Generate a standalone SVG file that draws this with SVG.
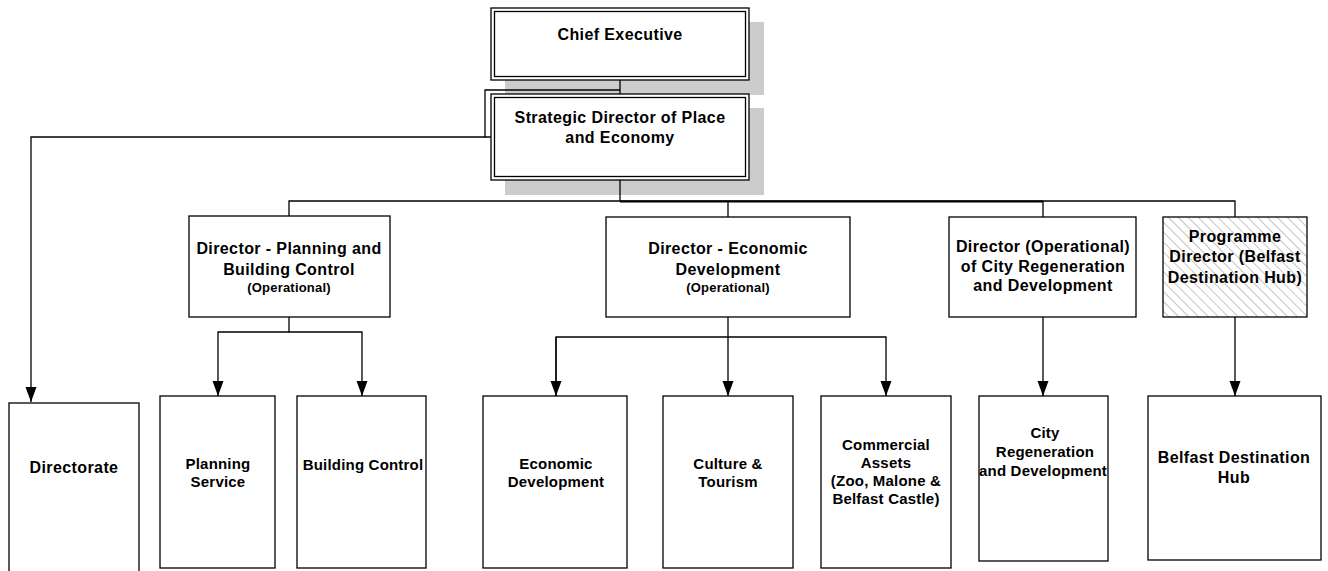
<svg xmlns="http://www.w3.org/2000/svg" width="1328" height="571" viewBox="0 0 1328 571">
<style>
.box{fill:#fff;stroke:#000;stroke-width:1.3}
.shadow{fill:#cccccc}
.t{font-family:"Liberation Sans",Arial,sans-serif;font-weight:bold;font-size:16px;letter-spacing:0.4px;fill:#000;text-anchor:middle}
.s{font-size:15px;letter-spacing:0.2px}
.op{font-size:13px;letter-spacing:0.2px}
.ln{fill:none;stroke:#000;stroke-width:1.3}
</style>
<defs>
<pattern id="hatch" width="7" height="7" patternUnits="userSpaceOnUse" patternTransform="rotate(-45)">
<rect width="7" height="7" fill="#fff"/>
<line x1="0" y1="0" x2="0" y2="7" stroke="#c4c4c4" stroke-width="2"/>
</pattern>
<marker id="ah" markerUnits="userSpaceOnUse" markerWidth="12" markerHeight="16" viewBox="0 0 12 16" refX="6" refY="15" orient="0">
<path d="M0.5,0 L11.5,0 L6,15 Z" fill="#000"/>
</marker>
</defs>

<g id="shadows">
<rect class="shadow" x="505" y="22" width="259" height="73"/>
<rect class="shadow" x="505" y="108" width="259" height="87"/>
</g>

<g id="connectors">
<path class="ln" d="M620,80 V94"/>
<path class="ln" d="M620,90 H485 V137 H491"/>
<path class="ln" d="M485,137 H31 V402" marker-end="url(#ah)"/>
<path class="ln" d="M620,180 V201"/>
<path class="ln" d="M289,216 V201 H1235 V217"/>
<path class="ln" d="M620,201.5 H1043" style="stroke-width:2"/>
<path class="ln" d="M728,201 V217"/>
<path class="ln" d="M1043,201 V217"/>
<path class="ln" d="M289,317 V332 H362 V396" marker-end="url(#ah)"/>
<path class="ln" d="M289,332 H218 V396" marker-end="url(#ah)"/>
<path class="ln" d="M728,317 V396" marker-end="url(#ah)"/>
<path class="ln" d="M556,396 V337 H886 V396" marker-end="url(#ah)"/>
<path class="ln" d="M556,337 V396" marker-end="url(#ah)"/>
<path class="ln" d="M1043,317 V396" marker-end="url(#ah)"/>
<path class="ln" d="M1235,317 V396" marker-end="url(#ah)"/>
</g>

<g id="chief">
<rect class="box" x="491" y="8" width="258" height="72"/>
<rect class="box" x="494.5" y="11.5" width="251" height="65"/>
<text class="t" x="620" y="40">Chief Executive</text>
</g>

<g id="strategic">
<rect class="box" x="491" y="94" width="258" height="86"/>
<rect class="box" x="494.5" y="97.5" width="251" height="79"/>
<text class="t" x="620" y="123">Strategic Director of Place</text>
<text class="t" x="620" y="143">and Economy</text>
</g>

<g id="dir-planning">
<rect class="box" x="189" y="216" width="201" height="101"/>
<text class="t" x="289" y="254">Director - Planning and</text>
<text class="t" x="289" y="275">Building Control</text>
<text class="t op" x="289" y="292">(Operational)</text>
</g>

<g id="dir-econ">
<rect class="box" x="606" y="217" width="244" height="100"/>
<text class="t" x="728" y="254">Director - Economic</text>
<text class="t" x="728" y="275">Development</text>
<text class="t op" x="728" y="292">(Operational)</text>
</g>

<g id="dir-city">
<rect class="box" x="949" y="217" width="187" height="100"/>
<text class="t" x="1043" y="252">Director (Operational)</text>
<text class="t" x="1043" y="272">of City Regeneration</text>
<text class="t" x="1043" y="291">and Development</text>
</g>

<g id="prog-dir">
<rect class="box" x="1163" y="217" width="144" height="100" style="fill:url(#hatch)"/>
<text class="t" x="1235" y="242">Programme</text>
<text class="t" x="1235" y="262">Director (Belfast</text>
<text class="t" x="1235" y="283">Destination Hub)</text>
</g>

<g id="directorate">
<rect class="box" x="9" y="403" width="130" height="180"/>
<text class="t" x="74" y="473">Directorate</text>
</g>

<g id="planning-service">
<rect class="box" x="160" y="396" width="115" height="172"/>
<text class="t s" x="218" y="469">Planning</text>
<text class="t s" x="218" y="487">Service</text>
</g>

<g id="building-control">
<rect class="box" x="297" y="396" width="129" height="172"/>
<text class="t s" x="363" y="470">Building Control</text>
</g>

<g id="econ-dev">
<rect class="box" x="483" y="396" width="144" height="172"/>
<text class="t s" x="556" y="469">Economic</text>
<text class="t s" x="556" y="487">Development</text>
</g>

<g id="culture">
<rect class="box" x="663" y="396" width="130" height="172"/>
<text class="t s" x="728" y="469">Culture &amp;</text>
<text class="t s" x="728" y="487">Tourism</text>
</g>

<g id="commercial">
<rect class="box" x="821" y="396" width="130" height="172"/>
<text class="t s" x="886" y="450">Commercial</text>
<text class="t s" x="886" y="468">Assets</text>
<text class="t s" x="886" y="486">(Zoo, Malone &amp;</text>
<text class="t s" x="886" y="504">Belfast Castle)</text>
</g>

<g id="city-regen">
<rect class="box" x="979" y="396" width="129" height="165"/>
<text class="t s" x="1045" y="438">City</text>
<text class="t s" x="1045" y="457">Regeneration</text>
<text class="t s" x="1043" y="476">and Development</text>
</g>

<g id="bdh">
<rect class="box" x="1148" y="396" width="173" height="164"/>
<text class="t" x="1234" y="463">Belfast Destination</text>
<text class="t" x="1234" y="483">Hub</text>
</g>
</svg>
